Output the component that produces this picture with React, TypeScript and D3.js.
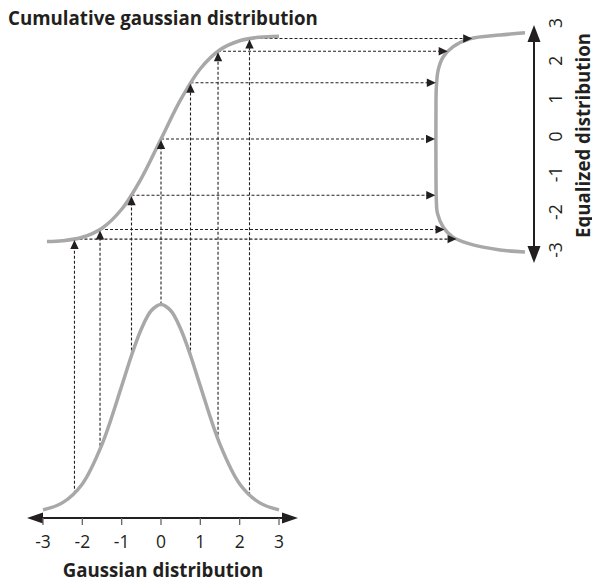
import * as d3 from "d3";

// Gaussian density
const gaussX = [-3, -2.5, -2, -1.5, -1, -0.75, -0.5, -0.25, 0, 0.25, 0.5, 0.75, 1, 1.5, 2, 2.5, 3];
const gaussDensity = [
  0.004, 0.018, 0.054, 0.13, 0.242, 0.301, 0.352, 0.387, 0.399, 0.387, 0.352, 0.301, 0.242, 0.13, 0.054, 0.018, 0.004,
];

// Cumulative curve (top left)
const cdfX = [-2.9, -2.5, -2, -1.5, -1, -0.5, 0, 0.5, 1, 1.5, 2, 2.5, 3];
const cdfValues = [0.002, 0.006, 0.023, 0.067, 0.159, 0.309, 0.5, 0.691, 0.841, 0.933, 0.977, 0.994, 0.999];

// Equalized curve (right), value on the vertical axis and its horizontal spread
const eqValues = [2.74, 2.68, 2.58, 2.37, 2.1, 1.76, 1.31, 0.96, -1.15, -1.7, -2.02, -2.39, -2.66, -2.82, -3.0, -3.05];
const eqSpread = [1, 0.72, 0.38, 0.19, 0.08, 0.025, 0.004, 0, 0, 0.004, 0.015, 0.08, 0.19, 0.35, 0.72, 1];

// Sample points that get mapped through the cdf
const sampleX = [-2.2, -1.55, -0.75, 0, 0.75, 1.45, 2.25];
const sampleDensity = [0.035, 0.118, 0.301, 0.399, 0.301, 0.139, 0.032];
const sampleCdf = [0.014, 0.061, 0.227, 0.5, 0.773, 0.926, 0.988];

const tickValues = [-3, -2, -1, 0, 1, 2, 3];

const W = 592;
const H = 581;
const gray = "#a8a8a8";
const ink = "#231f20";
const font = "'Open Sans', 'DejaVu Sans', sans-serif";

const x = d3.scaleLinear().domain([-3, 3]).range([43, 279]);
const yPdf = d3.scaleLinear().domain([0, 0.4]).range([512, 304]);
const yCdf = d3.scaleLinear().domain([0, 1]).range([242, 36]);
const yEq = d3.scaleLinear().domain([-3, 3]).range([250, 23]);
const xEq = d3.scaleLinear().domain([0, 1]).range([436, 525]);

const pdfLine = d3
  .line<number>()
  .x((d) => x(d))
  .y((_, i) => yPdf(gaussDensity[i]))
  .curve(d3.curveCatmullRom);
const cdfLine = d3
  .line<number>()
  .x((d) => x(d))
  .y((_, i) => yCdf(cdfValues[i]))
  .curve(d3.curveCatmullRom);
const eqLine = d3
  .line<number>()
  .x((_, i) => xEq(eqSpread[i]))
  .y((d) => yEq(d))
  .curve(d3.curveCatmullRom);

// where a horizontal line at pixel y hits the equalized curve
function eqXAt(py: number) {
  const v = yEq.invert(py);
  for (let i = 0; i < eqValues.length - 1; i++) {
    const a = eqValues[i];
    const b = eqValues[i + 1];
    if (v <= a && v >= b) {
      const t = (a - v) / (a - b);
      return xEq(eqSpread[i] + t * (eqSpread[i + 1] - eqSpread[i]));
    }
  }
  return xEq(0);
}

// triangle with its tip at (tx, ty) pointing along (dx, dy)
function head(tx: number, ty: number, dx: number, dy: number, len: number, half: number) {
  const bx = tx - dx * len;
  const by = ty - dy * len;
  const px = -dy * half;
  const py = dx * half;
  return `M${tx},${ty}L${bx + px},${by + py}L${bx - px},${by - py}Z`;
}

export default function App() {
  const axisY = 518;
  const axisX = 534;
  return (
    <svg
      width={W}
      height={H}
      viewBox={`0 0 ${W} ${H}`}
      style={{ position: "absolute", left: 0, top: 0, background: "#fff" }}
    >
      <text x={8} y={25} fontFamily={font} fontWeight={700} fontSize={18.7} fill={ink}>
        Cumulative gaussian distribution
      </text>

      {/* dashed mapping arrows */}
      <g>
        {sampleX.map((sx, i) => {
          const px = x(sx);
          const y0 = yPdf(sampleDensity[i]);
          const y1 = yCdf(sampleCdf[i]);
          const ex = eqXAt(y1);
          return (
            <g key={i}>
              <line x1={px} x2={px} y1={y0} y2={y1 + 6} stroke={ink} strokeWidth={1.1} strokeDasharray="3,2" />
              <line x1={px} x2={ex - 6} y1={y1} y2={y1} stroke={ink} strokeWidth={1.1} strokeDasharray="3,2" />
            </g>
          );
        })}
      </g>

      <path d={pdfLine(gaussX) || undefined} fill="none" stroke={gray} strokeWidth={3.5} />
      <path d={cdfLine(cdfX) || undefined} fill="none" stroke={gray} strokeWidth={3.5} />
      <path d={eqLine(eqValues) || undefined} fill="none" stroke={gray} strokeWidth={3.5} />

      {sampleX.map((sx, i) => {
        const px = x(sx);
        const y1 = yCdf(sampleCdf[i]);
        const ex = eqXAt(y1);
        return (
          <g key={i} fill={ink}>
            <path d={head(px, y1 + 1, 0, -1, 9, 4.2)} />
            <path d={head(ex - 1, y1, 1, 0, 9, 4.2)} />
          </g>
        );
      })}

      {/* bottom axis */}
      <line x1={40} x2={286} y1={axisY} y2={axisY} stroke={ink} strokeWidth={2} />
      <path d={head(27, axisY, -1, 0, 16, 5.5)} fill={ink} />
      <path d={head(298, axisY, 1, 0, 16, 5.5)} fill={ink} />
      {tickValues.map((t) => (
        <g key={t}>
          <line x1={x(t)} x2={x(t)} y1={axisY} y2={axisY + 7} stroke="#666" strokeWidth={1.3} />
          <text x={x(t)} y={548} textAnchor="middle" fontFamily={font} fontSize={17.5} fill={ink}>
            {t}
          </text>
        </g>
      ))}
      <text x={163} y={577} textAnchor="middle" fontFamily={font} fontWeight={700} fontSize={18.7} fill={ink}>
        Gaussian distribution
      </text>

      {/* right axis */}
      <line x1={axisX} x2={axisX} y1={36} y2={252} stroke={ink} strokeWidth={2} />
      <path d={head(axisX, 25, 0, -1, 17, 6.5)} fill={ink} />
      <path d={head(axisX, 263, 0, 1, 17, 6.5)} fill={ink} />
      {tickValues.map((t) => (
        <text
          key={t}
          transform={`translate(562,${yEq(t)}) rotate(-90)`}
          textAnchor="middle"
          fontFamily={font}
          fontSize={17.5}
          fill={ink}
        >
          {t}
        </text>
      ))}
      <text
        transform={`translate(590,${yEq(0) - 1}) rotate(-90)`}
        textAnchor="middle"
        fontFamily={font}
        fontWeight={700}
        fontSize={18.7}
        fill={ink}
      >
        Equalized distribution
      </text>
    </svg>
  );
}
